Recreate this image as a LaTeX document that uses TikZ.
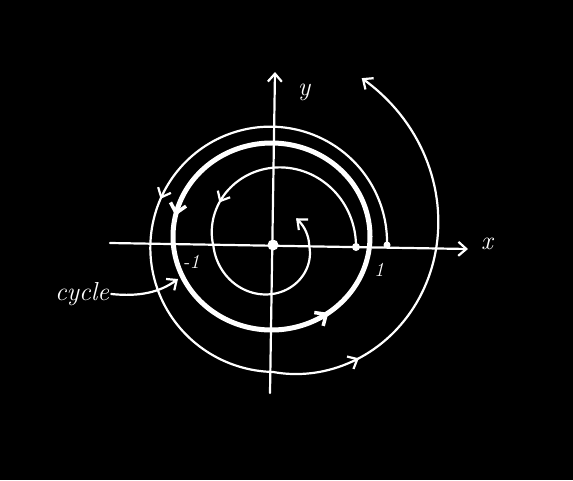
\documentclass[tikz,border=0pt]{standalone}
\usetikzlibrary{arrows.meta,decorations.markings}
\begin{document}
\begin{tikzpicture}[x=1pt,y=-1pt,
  chalk/.style={draw=white,line width=2.2pt,line cap=round,line join=round},
  thickchalk/.style={draw=white,line width=5pt,line cap=round,line join=round},
  barb/.style={-{Straight Barb[length=8pt,width=14pt,line width=2.2pt]}},
  lbl/.style={text=white,font=\fontsize{26}{26}\selectfont\itshape,inner sep=0pt}]
\fill[black] (0,0) rectangle (573,480);
\useasboundingbox (0,0) rectangle (573,480);
% axes
\coordinate (xl) at (110,243);
\coordinate (xr) at (468,249);
\coordinate (yb) at (270,393);
\coordinate (yt) at (275,72);
\draw[chalk,barb] (xl) -- (xr);
\draw[chalk,barb] (yb) -- (yt);
\node[lbl] (ylab) at (304,92) {y};
\node[lbl] (xlab) at (487,244) {x};
\node[lbl,font=\fontsize{20}{20}\selectfont\itshape] (m1) at (191,262) {-1};
\node[lbl,font=\fontsize{20}{20}\selectfont\itshape] (p1) at (379,270) {1};
% origin
\fill[white] (273,245) circle (5.5pt);
% limit cycle (thick)
\draw[thickchalk,
  postaction={decorate},
  decoration={markings,
    mark=at position 0.215 with {\arrow[white]{Straight Barb[length=9pt,width=16pt,line width=3.5pt]}},
    mark=at position 0.6 with {\arrow[white]{Straight Barb[length=9pt,width=16pt,line width=3.5pt]}}}]
  plot[domain=90:448,samples=180] ({271.5+98.5*cos(\x)},{236.5-93.5*sin(\x)}) -- cycle;
% outer spiral
\fill[white] (387,245) circle (3.5pt);
\draw[chalk,barb,
  postaction={decorate},
  decoration={markings,
    mark=at position 0.327 with {\arrow[white]{Straight Barb[length=8pt,width=14pt,line width=2.2pt]}},
    mark=at position 0.662 with {\arrow[white]{Straight Barb[length=8pt,width=14pt,line width=2.2pt]}}}]
  plot[domain=0:422,samples=212] ({273+(114+0.048*\x+0.36*max(0,\x-270))*cos(\x)},{245-(114+0.048*\x+0.36*max(0,\x-270))*sin(\x)});
% inner spiral
\fill[white] (356,247) circle (4pt);
\draw[chalk,barb,
  postaction={decorate},
  decoration={markings,
    mark=at position 0.46 with {\arrow[white]{Straight Barb[length=8pt,width=14pt,line width=2.2pt]}}}]
  plot[domain=0:410,samples=206] ({273+max(36,83-0.13*\x+7*max(0,sin(\x)))*cos(\x)},{246-max(36,83-0.13*\x+7*max(0,sin(\x)))*sin(\x)});
% cycle label
\node[lbl] (cyc) at (82,294) {cycle};
\coordinate (cyctip) at (178,279);
\draw[chalk,barb] (cyc.east) ++(2,0) .. controls (140,297) and (160,292) .. (cyctip);
\end{tikzpicture}
\end{document}
